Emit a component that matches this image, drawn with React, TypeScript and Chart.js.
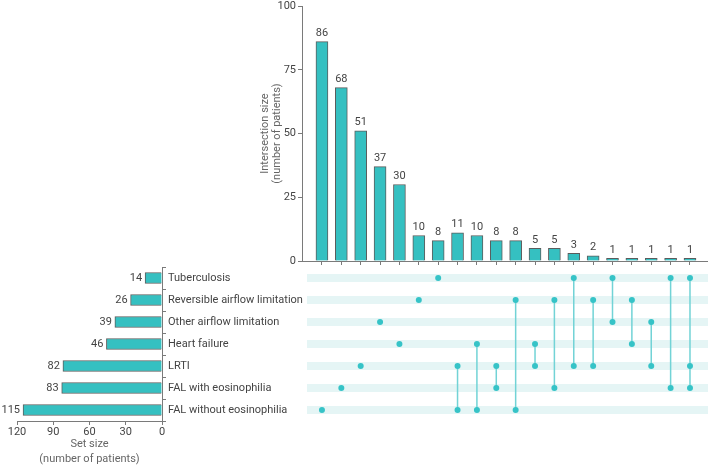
import React, { useEffect, useRef } from "react";
import { Chart, registerables } from "chart.js";

Chart.register(...registerables);

// ---------- data ----------
const setNames = [
  "Tuberculosis",
  "Reversible airflow limitation",
  "Other airflow limitation",
  "Heart failure",
  "LRTI",
  "FAL with eosinophilia",
  "FAL without eosinophilia",
];
const setSizes = [14, 26, 39, 46, 82, 83, 115];
const setSizeTicks = [0, 30, 60, 90, 120];

const intersectionSizes = [86, 68, 51, 37, 30, 10, 8, 11, 10, 8, 8, 5, 5, 3, 2, 1, 1, 1, 1, 1];
// indices into setNames for each intersection column
const intersectionMembers = [
  [6], [5], [4], [2], [3], [1], [0],
  [4, 6], [3, 6], [4, 5], [1, 6], [3, 4], [1, 5], [0, 4], [1, 4],
  [0, 2], [1, 3], [2, 4], [0, 5], [0, 4, 5],
];
const intersectionTicks = [0, 25, 50, 75, 100];

// ---------- style ----------
const FONT = "Roboto";
const TEAL = "#35c0c1";
const BORDER = "#5c5c5c";
const AXIS = "#7a7a7a";
const DOT = "#36c3c7";
const LINK = "#72d3d6";
const STRIPE = "#e5f5f5";
const TEXT = "#444444";
const TITLE = "#666666";
const X_MIN = -1.03;
const X_MAX = 19.93;
const STRIPE_START = -0.77;

Chart.defaults.font.family = FONT;
Chart.defaults.font.size = 11;

function useChart(ref: React.RefObject<HTMLCanvasElement | null>, make: () => any) {
  useEffect(() => {
    if (!ref.current) return;
    const chart = new Chart(ref.current, make());
    return () => chart.destroy();
  }, []);
}

const topLabels = {
  id: "topLabels",
  afterDatasetsDraw(chart: any) {
    const ctx = chart.ctx;
    const meta = chart.getDatasetMeta(0);
    ctx.save();
    ctx.fillStyle = TEXT;
    ctx.font = `11px ${FONT}`;
    ctx.textAlign = "center";
    ctx.textBaseline = "bottom";
    meta.data.forEach((bar: any, i: number) => {
      ctx.fillText(String(intersectionSizes[i]), bar.x, bar.y - 3);
    });
    ctx.restore();
  },
};

const leftLabels = {
  id: "leftLabels",
  afterDatasetsDraw(chart: any) {
    const ctx = chart.ctx;
    const meta = chart.getDatasetMeta(0);
    ctx.save();
    ctx.fillStyle = TEXT;
    ctx.font = `11px ${FONT}`;
    ctx.textAlign = "right";
    ctx.textBaseline = "middle";
    meta.data.forEach((bar: any, i: number) => {
      ctx.fillText(String(setSizes[i]), bar.x - 3, bar.y);
    });
    ctx.restore();
  },
};

function TopChart() {
  const ref = useRef<HTMLCanvasElement>(null);
  useChart(ref, () => ({
    type: "bar",
    data: {
      datasets: [
        {
          data: intersectionSizes.map((v, i) => ({ x: i, y: v })),
          backgroundColor: TEAL,
          borderColor: BORDER,
          borderWidth: 1,
          barThickness: 12,
        },
      ],
    },
    options: {
      animation: false,
      responsive: false,
      events: [],
      layout: { autoPadding: false, padding: { left: 19, right: 0, top: 6, bottom: 0 } },
      plugins: { legend: { display: false }, tooltip: { enabled: false } },
      scales: {
        x: {
          type: "linear",
          min: X_MIN,
          max: X_MAX,
          offset: false,
          afterBuildTicks: (s: any) => {
            s.ticks = intersectionSizes.map((_, i) => ({ value: i }));
          },
          ticks: { display: false },
          grid: { offset: false, drawOnChartArea: false, drawTicks: true, tickLength: 4, color: AXIS },
          border: { display: true, color: AXIS },
          afterFit: (s: any) => {
            s.height = 7;
            s.paddingLeft = 0;
            s.paddingRight = 0;
          },
        },
        y: {
          min: 0,
          max: 100,
          afterBuildTicks: (s: any) => {
            s.ticks = intersectionTicks.map((v) => ({ value: v }));
          },
          ticks: { color: TEXT, font: { size: 11 }, padding: 2 },
          grid: { drawOnChartArea: false, tickLength: 4, color: AXIS },
          border: { display: true, color: AXIS },
          title: {
            display: true,
            text: ["Intersection size", "(number of patients)"],
            color: TITLE,
            font: { size: 11, lineHeight: 1.1 },
            padding: { top: 0, bottom: 0 },
          },
          afterFit: (s: any) => {
            s.width = 43;
            s.paddingTop = 0;
            s.paddingBottom = 0;
          },
        },
      },
    },
    plugins: [topLabels],
  }));
  return (
    <canvas
      ref={ref}
      width={468}
      height={268}
      style={{ position: "absolute", left: 240, top: 0, width: 468, height: 268 }}
    />
  );
}

function SetSizeChart() {
  const ref = useRef<HTMLCanvasElement>(null);
  useChart(ref, () => ({
    type: "bar",
    data: {
      labels: setNames,
      datasets: [
        {
          data: setSizes,
          backgroundColor: TEAL,
          borderColor: BORDER,
          borderWidth: 1,
          barThickness: 11,
        },
      ],
    },
    options: {
      indexAxis: "y",
      animation: false,
      responsive: false,
      events: [],
      layout: { autoPadding: false, padding: { left: 17, right: 0, top: 5, bottom: 0 } },
      plugins: { legend: { display: false }, tooltip: { enabled: false } },
      scales: {
        x: {
          min: 0,
          max: 120,
          reverse: true,
          afterBuildTicks: (s: any) => {
            s.ticks = setSizeTicks.map((v) => ({ value: v }));
          },
          ticks: { color: TEXT, font: { size: 11 }, padding: 1 },
          grid: { drawOnChartArea: false, tickLength: 4, color: AXIS },
          border: { display: true, color: AXIS },
          title: {
            display: true,
            text: ["Set size", "(number of patients)"],
            color: TITLE,
            font: { size: 11, lineHeight: 1.4 },
            padding: { top: 0, bottom: 1 },
          },
          afterFit: (s: any) => {
            s.height = 47;
            s.paddingLeft = 0;
            s.paddingRight = 0;
          },
        },
        y: {
          position: "right",
          ticks: { color: TEXT, font: { size: 11 }, padding: 2 },
          grid: { drawOnChartArea: false, tickLength: 4, color: AXIS },
          border: { display: true, color: AXIS },
          afterFit: (s: any) => {
            s.width = 148;
            s.paddingTop = 0;
            s.paddingBottom = 0;
          },
        },
      },
    },
    plugins: [leftLabels],
  }));
  return (
    <canvas
      ref={ref}
      width={310}
      height={206}
      style={{ position: "absolute", left: 0, top: 262, width: 310, height: 206 }}
    />
  );
}

function MatrixChart() {
  const ref = useRef<HTMLCanvasElement>(null);
  useChart(ref, () => {
    const stripes = setNames.map((_, r) => ({
      type: "line",
      data: [
        { x: STRIPE_START, y: r },
        { x: X_MAX, y: r },
      ],
      borderColor: STRIPE,
      borderWidth: 8,
      borderCapStyle: "butt",
      pointRadius: 0,
      order: 3,
    }));
    const links = intersectionMembers
      .map((m, i) => ({ m, i }))
      .filter(({ m }) => m.length > 1)
      .map(({ m, i }) => ({
        type: "line",
        data: [
          { x: i, y: Math.min(...m) },
          { x: i, y: Math.max(...m) },
        ],
        borderColor: LINK,
        borderWidth: 1.5,
        pointRadius: 0,
        order: 2,
      }));
    const dots = {
      type: "scatter",
      data: intersectionMembers.flatMap((m, i) => m.map((r) => ({ x: i, y: r }))),
      backgroundColor: DOT,
      borderWidth: 0,
      pointRadius: 3,
      order: 1,
    };
    return {
      type: "scatter",
      data: { datasets: [...stripes, ...links, dots] },
      options: {
        animation: false,
        responsive: false,
        events: [],
        layout: { autoPadding: false, padding: 0 },
        plugins: { legend: { display: false }, tooltip: { enabled: false } },
        scales: {
          x: { type: "linear", min: X_MIN, max: X_MAX, display: false },
          y: { type: "linear", min: -0.5, max: 6.5, reverse: true, display: false },
        },
      },
    };
  });
  return (
    <canvas
      ref={ref}
      width={406}
      height={154}
      style={{ position: "absolute", left: 302, top: 267, width: 406, height: 154 }}
    />
  );
}

export default function App() {
  return (
    <div
      style={{
        position: "fixed",
        left: 0,
        top: 0,
        width: 708,
        height: 468,
        background: "#ffffff",
        overflow: "hidden",
      }}
    >
      <SetSizeChart />
      <MatrixChart />
      <TopChart />
    </div>
  );
}
